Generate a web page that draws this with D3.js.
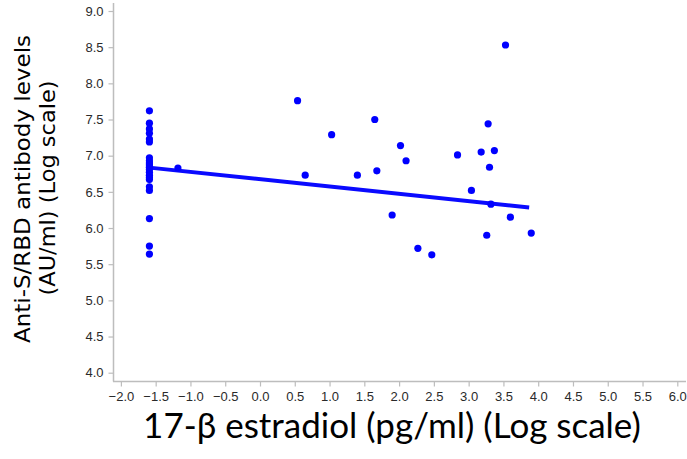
<!DOCTYPE html>
<html>
<head>
<meta charset="utf-8">
<script src="https://cdn.jsdelivr.net/npm/d3@7"></script>
<style>
  html, body { margin: 0; padding: 0; background: #fff; }
  svg { display: block; }
</style>
</head>
<body>
<svg id="chart" width="687" height="459"></svg>
<script>
// ---- Data (log-scale values) ----
const estradiolLog = [
  -1.59, -1.59, -1.59, -1.59, -1.59, -1.59,
  -1.59, -1.59, -1.59, -1.59, -1.59, -1.59, -1.59, -1.59, -1.59, -1.59,
  -1.59, -1.59, -1.59, -1.59, -1.59,
  -1.18,
  0.54, 0.65, 1.03, 1.40, 1.65, 1.68, 1.90, 2.02, 2.10, 2.27, 2.47,
  2.84, 3.04, 3.18, 3.28, 3.26, 3.30, 3.32, 3.37, 3.53, 3.60, 3.90
];
const antibodyLog = [
  7.62, 7.45, 7.37, 7.31, 7.23, 7.19,
  6.97, 6.93, 6.90, 6.87, 6.84, 6.81, 6.77, 6.73, 6.70, 6.67, 6.57, 6.52,
  6.13, 5.75, 5.64,
  6.83,
  7.76, 6.73, 7.29, 6.73, 7.50, 6.79, 6.18, 7.14, 6.93, 5.72, 5.63,
  7.01, 6.52, 7.05, 7.44, 5.90, 6.84, 6.33, 7.07, 8.53, 6.15, 5.93
];
const fitX = [-1.59, 3.87];
const fitY = [6.835, 6.283];

const xTicks = [-2.0,-1.5,-1.0,-0.5,0.0,0.5,1.0,1.5,2.0,2.5,3.0,3.5,4.0,4.5,5.0,5.5,6.0];
const yTicks = [4.0,4.5,5.0,5.5,6.0,6.5,7.0,7.5,8.0,8.5,9.0];
const xTitle = "17-\u03B2 estradiol (pg/ml) (Log scale)";
const yTitle1 = "Anti-S/RBD antibody levels";
const yTitle2 = "(AU/ml) (Log scale)";

// ---- Drawing ----
const svg = d3.select("#chart");
const x = d3.scaleLinear().domain([-2, 6]).range([120.9, 677.3]);
const y = d3.scaleLinear().domain([4, 9]).range([372.7, 11]);

const axisColor = "#bdbdbd";
const labelColor = "#2a2a2a";
const tickFont = "'Liberation Sans', Arial, sans-serif";

// axis lines
svg.append("line").attr("x1", 113.5).attr("x2", 113.5).attr("y1", 3).attr("y2", 381.5)
  .attr("stroke", axisColor).attr("stroke-width", 1.5);
svg.append("line").attr("x1", 113).attr("x2", 686).attr("y1", 381.5).attr("y2", 381.5)
  .attr("stroke", axisColor).attr("stroke-width", 1.5);

// x axis
const gx = svg.append("g").attr("transform", "translate(0,381.5)")
  .call(d3.axisBottom(x).tickValues(xTicks).tickFormat(d3.format(".1f")).tickSize(5).tickPadding(5))
  .attr("font-family", tickFont).attr("font-size", 13);
gx.select(".domain").remove();
gx.selectAll(".tick line").attr("stroke", axisColor).attr("stroke-width", 1.2);
gx.selectAll(".tick text").attr("fill", labelColor);

// y axis
const gy = svg.append("g").attr("transform", "translate(113.5,0)")
  .call(d3.axisLeft(y).tickValues(yTicks).tickFormat(d3.format(".1f")).tickSize(5).tickPadding(5))
  .attr("font-family", tickFont).attr("font-size", 13);
gy.select(".domain").remove();
gy.selectAll(".tick line").attr("stroke", axisColor).attr("stroke-width", 1.2);
gy.selectAll(".tick text").attr("fill", labelColor);

// regression line
const line = d3.line().x(d => x(d[0])).y(d => y(d[1]));
svg.append("path").datum(d3.zip(fitX, fitY)).attr("d", line)
  .attr("fill", "none").attr("stroke", "#0a0aff").attr("stroke-width", 4);

// points
svg.append("g").selectAll("circle").data(d3.zip(estradiolLog, antibodyLog)).join("circle")
  .attr("cx", d => x(d[0])).attr("cy", d => y(d[1])).attr("r", 3.6)
  .attr("fill", "#0000ff");

// x title
svg.append("text").attr("x", 392).attr("y", 438).attr("text-anchor", "middle")
  .attr("font-family", "Lato, 'Open Sans', sans-serif").attr("font-size", 35)
  .attr("fill", "#000").text(xTitle);

// y title (two lines, rotated)
svg.append("text").attr("transform", "translate(30,189) rotate(-90)").attr("text-anchor", "middle")
  .attr("font-family", "'DejaVu Sans', sans-serif").attr("font-size", 21)
  .attr("textLength", 308).attr("lengthAdjust", "spacingAndGlyphs")
  .attr("fill", "#000").text(yTitle1);
svg.append("text").attr("transform", "translate(55,188) rotate(-90)").attr("text-anchor", "middle")
  .attr("font-family", "'DejaVu Sans', sans-serif").attr("font-size", 21)
  .attr("textLength", 215).attr("lengthAdjust", "spacingAndGlyphs")
  .attr("fill", "#000").text(yTitle2);
</script>
</body>
</html>
